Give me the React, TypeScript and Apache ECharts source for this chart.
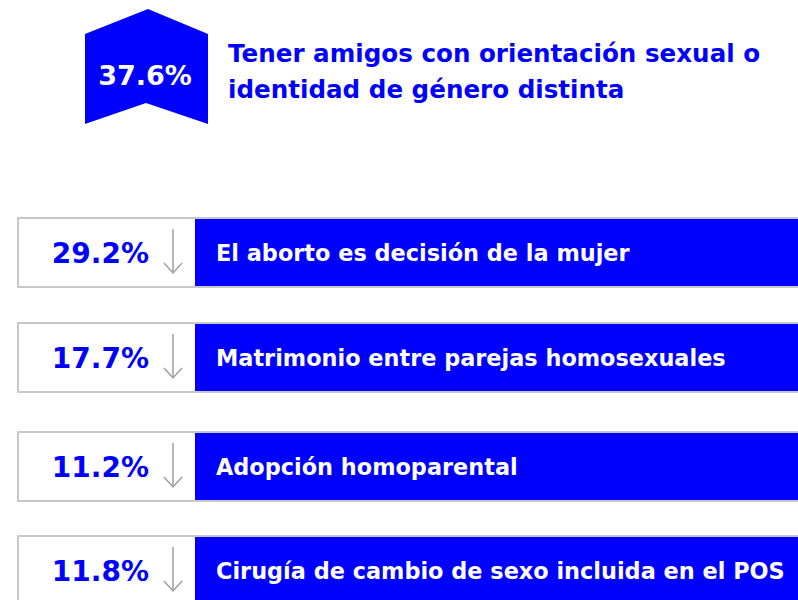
import React, { useEffect, useRef } from "react";
import * as echarts from "echarts";

const headlineValue = "37.6%";
const headlineLines = [
  "Tener amigos con orientación sexual o",
  "identidad de género distinta",
];
const percentages = ["29.2%", "17.7%", "11.2%", "11.8%"];
const labels = [
  "El aborto es decisión de la mujer",
  "Matrimonio entre parejas homosexuales",
  "Adopción homoparental",
  "Cirugía de cambio de sexo incluida en el POS",
];

// layout
const ROW_TOPS = [217, 322, 431, 535];
const ROW_H = 71;
const BLUE = "#0000ff";
const WIDE = "'DejaVu Sans'";

export default function App() {
  const ref = useRef<HTMLDivElement>(null);
  useEffect(() => {
    if (!ref.current) return;
    const chart = echarts.init(ref.current, undefined, { renderer: "svg" });
    const elements: any[] = [];
    // badge
    elements.push({
      type: "polygon",
      shape: {
        points: [
          [85, 34],
          [148, 9],
          [208, 34],
          [208, 124],
          [146, 103],
          [85, 124],
        ],
      },
      style: { fill: BLUE },
    });
    elements.push({
      type: "text",
      x: 145,
      y: 75,
      style: {
        text: headlineValue,
        fill: "#ffffff",
        font: `bold 27px ${WIDE}`,
        align: "center",
        verticalAlign: "middle",
      },
    });
    headlineLines.forEach((t, i) => {
      elements.push({
        type: "text",
        x: 228,
        y: 53 + i * 36,
        style: {
          text: t,
          fill: BLUE,
          font: `bold 24.6px ${WIDE}`,
          align: "left",
          verticalAlign: "middle",
        },
      });
    });
    percentages.forEach((p, i) => {
      const top = ROW_TOPS[i];
      const cy = top + ROW_H / 2;
      elements.push({
        type: "rect",
        shape: { x: 18, y: top + 1, width: 800, height: ROW_H - 2 },
        style: { fill: "#ffffff", stroke: "#c8c8c8", lineWidth: 2 },
      });
      elements.push({
        type: "rect",
        shape: { x: 195, y: top + 2, width: 610, height: ROW_H - 4 },
        style: { fill: BLUE },
      });
      elements.push({
        type: "text",
        x: 149,
        y: cy + 1,
        style: {
          text: p,
          fill: BLUE,
          font: `bold 28px ${WIDE}`,
          align: "right",
          verticalAlign: "middle",
        },
      });
      elements.push({
        type: "line",
        shape: { x1: 173, y1: top + 12, x2: 173, y2: top + 56 },
        style: { stroke: "#a0a0a0", lineWidth: 1.5 },
      });
      elements.push({
        type: "polyline",
        shape: {
          points: [
            [164, top + 46],
            [173, top + 56],
            [182, top + 46],
          ],
        },
        style: { stroke: "#a0a0a0", lineWidth: 1.5, fill: "none" },
      });
      elements.push({
        type: "text",
        x: 216,
        y: cy,
        style: {
          text: labels[i],
          fill: "#ffffff",
          font: `bold 22.4px ${WIDE}`,
          align: "left",
          verticalAlign: "middle",
        },
      });
    });
    chart.setOption({
      animation: false,
      backgroundColor: "#ffffff",
      graphic: { elements },
    });
    return () => chart.dispose();
  }, []);
  return (
    <div
      ref={ref}
      style={{ position: "fixed", left: 0, top: 0, width: 798, height: 600 }}
    />
  );
}
